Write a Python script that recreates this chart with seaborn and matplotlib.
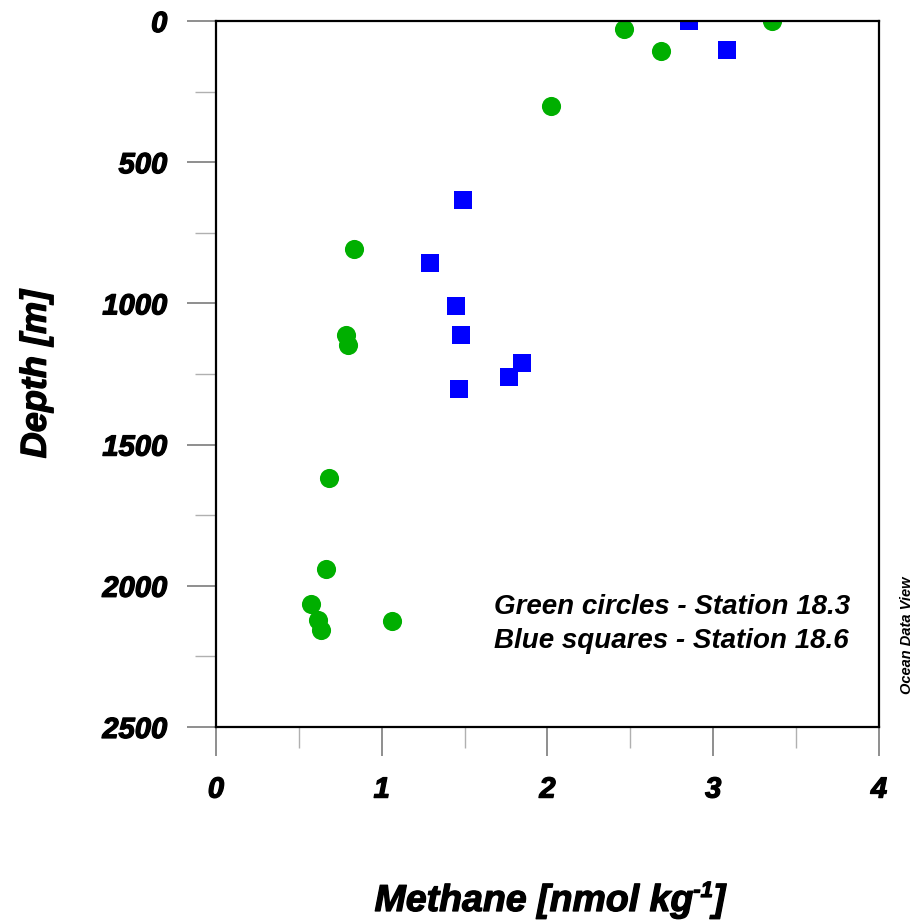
import matplotlib
matplotlib.use("Agg")
import matplotlib.pyplot as plt
import matplotlib.patheffects as pe
import seaborn as sns
import pandas as pd
from matplotlib.ticker import MultipleLocator

sns.set_style("white")
plt.rcParams["font.family"] = ["Liberation Sans", "DejaVu Sans"]
plt.rcParams["text.color"] = "black"
plt.rcParams["axes.labelcolor"] = "black"

# Station 18.3 (green circles)
st183_methane = [2.46, 2.685, 3.357, 2.02, 0.833, 0.784, 0.796, 0.684, 0.666, 0.571, 0.613, 0.634, 1.06]
st183_depth = [29, 105, 0, 301, 807, 1112, 1147, 1617, 1942, 2063, 2122, 2157, 2125]

# Station 18.6 (blue squares)
st186_methane = [2.856, 3.085, 1.492, 1.293, 1.448, 1.478, 1.846, 1.766, 1.464]
st186_depth = [0, 101, 634, 858, 1009, 1111, 1211, 1262, 1302]

x_major = [0, 1, 2, 3, 4]
y_major = [0, 500, 1000, 1500, 2000, 2500]

df183 = pd.DataFrame({"methane": st183_methane, "depth": st183_depth})
df186 = pd.DataFrame({"methane": st186_methane, "depth": st186_depth})

W, H = 919, 922
fig = plt.figure(figsize=(W / 100, H / 100), dpi=100)
ax = fig.add_axes([0.235, 0.2115, 0.7215, 0.7657])

sns.scatterplot(data=df183, x="methane", y="depth", ax=ax, color="#00af00",
                marker="o", s=190, linewidth=0, zorder=3)
sns.scatterplot(data=df186, x="methane", y="depth", ax=ax, color="#0000ff",
                marker="s", s=180, linewidth=0, zorder=3)

ax.set_xlim(0, 4)
ax.set_ylim(2500, 0)
ax.set_xticks(x_major)
ax.set_yticks(y_major)
ax.xaxis.set_minor_locator(MultipleLocator(0.5))
ax.yaxis.set_minor_locator(MultipleLocator(250))

heavy = [pe.withStroke(linewidth=0.9, foreground="black")]
tick_font = dict(fontsize=21, fontweight="bold", fontstyle="italic",
                 color="black", path_effects=heavy)
ax.set_xticklabels([str(v) for v in x_major], **tick_font)
ax.set_yticklabels([str(v) for v in y_major], **tick_font)

ax.tick_params(which="major", direction="out", length=21, width=1.1,
               color="#707070", pad=14, bottom=True, left=True,
               labelcolor="black")
ax.tick_params(which="minor", direction="out", length=15, width=1.0,
               color="#b0b0b0", bottom=True, left=True)

for sp in ax.spines.values():
    sp.set_visible(True)
    sp.set_color("black")
    sp.set_linewidth(1.6)
    sp.set_zorder(4)

ax.set_xlabel("")
ax.set_ylabel("Depth [m]", fontsize=26, fontweight="bold",
              fontstyle="italic", labelpad=35, path_effects=heavy)

# x-axis title built from pieces so the exponent keeps a plain hyphen
label_font = dict(fontweight="bold", fontstyle="italic", path_effects=heavy,
                  va="baseline", ha="left")
base_y = 1 - 911 / H
renderer = fig.canvas.get_renderer()
t_main = fig.text(0, base_y, "Methane [nmol kg", fontsize=27, **label_font)
t_sup = fig.text(0, 0, "-1", fontsize=16, **label_font)
t_end = fig.text(0, base_y, "]", fontsize=27, **label_font)
w_main = t_main.get_window_extent(renderer).width
w_sup = t_sup.get_window_extent(renderer).width
w_end = t_end.get_window_extent(renderer).width
total = w_main + w_sup + w_end
x0 = 550 - total / 2
t_main.set_x(x0 / W)
t_sup.set_position(((x0 + w_main) / W, base_y + 14 / H))
t_end.set_x((x0 + w_main + w_sup) / W)

legend_font = dict(fontsize=20, fontweight="bold", fontstyle="italic",
                   transform=ax.transAxes, ha="left", va="center")
ax.text(0.42, 0.170, "Green circles - Station 18.3", **legend_font)
ax.text(0.42, 0.122, "Blue squares - Station 18.6", **legend_font)

fig.text(907 / W, 1 - 635 / H, "Ocean Data View", rotation=90, fontsize=10.5,
         fontweight="bold", fontstyle="italic", ha="center", va="center")

fig.savefig("out.png", dpi=100)
